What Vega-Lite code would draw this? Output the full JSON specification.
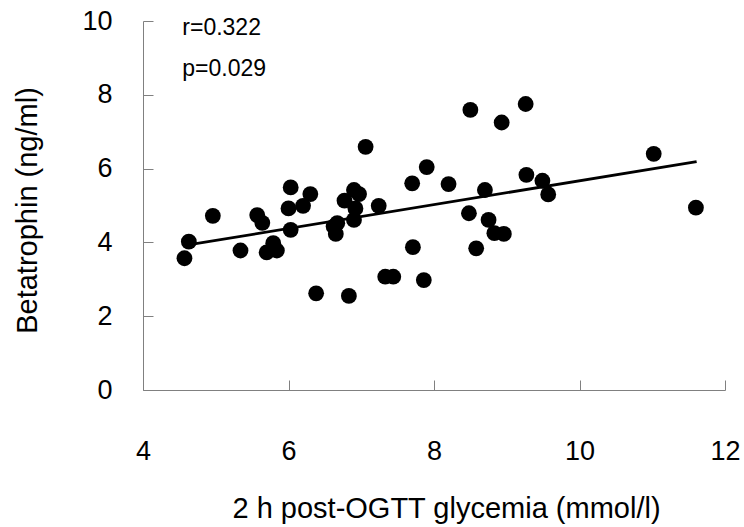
{
  "$schema": "https://vega.github.io/schema/vega-lite/v6.json",
  "width": 582,
  "height": 369,
  "autosize": "none",
  "padding": {"left": 143, "top": 21, "right": 19, "bottom": 137},
  "background": "white",
  "config": {
    "view": {"stroke": null},
    "font": "Liberation Sans",
    "axis": {
      "grid": false,
      "domainColor": "#808080",
      "domainWidth": 1,
      "tickColor": "#808080",
      "tickWidth": 1,
      "tickSize": -10,
      "labelFont": "Liberation Sans",
      "labelFontSize": 27,
      "labelColor": "black",
      "titleFont": "Liberation Sans",
      "titleFontSize": 29,
      "titleFontWeight": "normal",
      "titleColor": "black"
    }
  },
  "datasets": {
    "points": [
      {"glycemia": 4.57, "betatrophin": 3.57},
      {"glycemia": 4.63, "betatrophin": 4.02},
      {"glycemia": 4.96, "betatrophin": 4.72},
      {"glycemia": 5.34, "betatrophin": 3.78},
      {"glycemia": 5.57, "betatrophin": 4.74},
      {"glycemia": 5.64, "betatrophin": 4.53},
      {"glycemia": 5.70, "betatrophin": 3.73},
      {"glycemia": 5.79, "betatrophin": 3.98},
      {"glycemia": 5.84, "betatrophin": 3.78},
      {"glycemia": 6.00, "betatrophin": 4.92},
      {"glycemia": 6.03, "betatrophin": 5.49},
      {"glycemia": 6.03, "betatrophin": 4.34},
      {"glycemia": 6.20, "betatrophin": 4.99},
      {"glycemia": 6.30, "betatrophin": 5.31},
      {"glycemia": 6.38, "betatrophin": 2.62},
      {"glycemia": 6.62, "betatrophin": 4.43},
      {"glycemia": 6.67, "betatrophin": 4.52},
      {"glycemia": 6.65, "betatrophin": 4.23},
      {"glycemia": 6.77, "betatrophin": 5.13},
      {"glycemia": 6.83, "betatrophin": 2.55},
      {"glycemia": 6.90, "betatrophin": 5.42},
      {"glycemia": 6.97, "betatrophin": 5.31},
      {"glycemia": 6.92, "betatrophin": 4.92},
      {"glycemia": 6.90, "betatrophin": 4.61},
      {"glycemia": 7.06, "betatrophin": 6.59},
      {"glycemia": 7.24, "betatrophin": 4.99},
      {"glycemia": 7.33, "betatrophin": 3.07},
      {"glycemia": 7.44, "betatrophin": 3.07},
      {"glycemia": 7.70, "betatrophin": 5.60},
      {"glycemia": 7.71, "betatrophin": 3.87},
      {"glycemia": 7.86, "betatrophin": 2.98},
      {"glycemia": 7.90, "betatrophin": 6.04},
      {"glycemia": 8.20, "betatrophin": 5.58},
      {"glycemia": 8.48, "betatrophin": 4.79},
      {"glycemia": 8.50, "betatrophin": 7.59},
      {"glycemia": 8.58, "betatrophin": 3.84},
      {"glycemia": 8.70, "betatrophin": 5.42},
      {"glycemia": 8.75, "betatrophin": 4.61},
      {"glycemia": 8.83, "betatrophin": 4.25},
      {"glycemia": 8.93, "betatrophin": 7.25},
      {"glycemia": 8.96, "betatrophin": 4.23},
      {"glycemia": 9.26, "betatrophin": 7.75},
      {"glycemia": 9.27, "betatrophin": 5.83},
      {"glycemia": 9.49, "betatrophin": 5.67},
      {"glycemia": 9.57, "betatrophin": 5.30},
      {"glycemia": 11.02, "betatrophin": 6.40},
      {"glycemia": 11.60, "betatrophin": 4.94}
    ],
    "fit": [
      {"glycemia": 4.62, "betatrophin": 3.93},
      {"glycemia": 11.61, "betatrophin": 6.19}
    ],
    "notes": [
      {"glycemia": 4.54, "betatrophin": 9.62, "label": "r=0.322"},
      {"glycemia": 4.54, "betatrophin": 8.51, "label": "p=0.029"}
    ]
  },
  "encoding": {
    "x": {
      "field": "glycemia",
      "type": "quantitative",
      "scale": {"domain": [4, 12], "nice": false, "zero": false},
      "axis": {
        "title": "2 h post-OGTT glycemia (mmol/l)",
        "values": [4, 6, 8, 10, 12],
        "labelBaseline": "alphabetic",
        "labelPadding": 79,
        "labelFlush": false,
        "titleX": 303,
        "titleY": 127,
        "titleBaseline": "alphabetic",
        "titleAnchor": null
      }
    },
    "y": {
      "field": "betatrophin",
      "type": "quantitative",
      "scale": {"domain": [0, 10], "nice": false},
      "axis": {
        "title": "Betatrophin (ng/ml)",
        "values": [0, 2, 4, 6, 8, 10],
        "labelPadding": 41,
        "labelFlush": false,
        "titleX": -107,
        "titleY": 189,
        "titleBaseline": "alphabetic",
        "titleAngle": -90
      }
    }
  },
  "layer": [
    {
      "data": {"name": "fit"},
      "mark": {"type": "line", "color": "black", "strokeWidth": 2.8}
    },
    {
      "data": {"name": "points"},
      "mark": {"type": "circle", "color": "black", "opacity": 1, "size": 250}
    },
    {
      "data": {"name": "notes"},
      "mark": {"type": "text", "align": "left", "baseline": "alphabetic", "fontSize": 23, "font": "Liberation Sans", "color": "black"},
      "encoding": {"text": {"field": "label"}}
    }
  ]
}
